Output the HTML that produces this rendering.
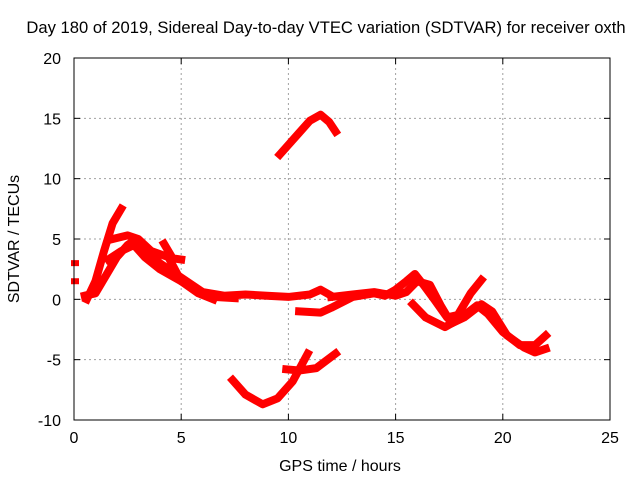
<!DOCTYPE html>
<html><head><meta charset="utf-8"><style>
body{margin:0;background:#fff}
svg text{font-family:"Liberation Sans",sans-serif;font-size:16px;fill:#000}
</style></head><body>
<svg id="c" width="640" height="480" xmlns="http://www.w3.org/2000/svg">
<rect width="640" height="480" fill="#fff"/>
<text x="326" y="33" text-anchor="middle" style="font-size:16.6px">Day 180 of 2019, Sidereal Day-to-day VTEC variation (SDTVAR) for receiver oxth</text>
<text x="340" y="471" text-anchor="middle">GPS time / hours</text>
<text transform="translate(19,239) rotate(-90)" text-anchor="middle">SDTVAR / TECUs</text>
<g id="grid"></g><g id="ticks"></g><g id="data"></g>
<rect x="74" y="58" width="536" height="362" fill="none" stroke="#000" stroke-width="1"/>
</svg>
<script>
const xTicks=[0,5,10,15,20,25];
const yTicks=[-10,-5,0,5,10,15,20];
const seriesA=[[0.6,0],[1,1.5],[1.4,4],[1.8,6.3],[2.2,7.5]];
const seriesB=[[0.5,0.3],[1,0.5],[1.5,2],[2,3.5],[2.5,4.5],[2.9,5],[3.3,4.2],[4,3],[5,1.8],[6,0.6],[7,0.3],[8,0.4],[9,0.3],[10,0.2],[11,0.4],[11.5,0.8],[12,0.3]];
const seriesC=[[1.6,3.3],[2.2,4],[2.8,4.5],[3.3,3.5],[4,2.5],[4.7,1.8],[5.5,1],[6.5,0.2],[7.5,0.1]];
const seriesD=[[1.8,5],[2.5,5.3],[3,5],[3.6,4],[4.4,3.5],[5,1.5],[5.8,0.5],[6.5,0]];
const seriesE=[[4.2,4.6],[4.6,3.4],[5,3.3]];
const seriesTop=[[9.6,12],[10,12.8],[10.5,13.8],[11,14.8],[11.5,15.3],[11.9,14.7],[12.2,13.9]];
const seriesBot1=[[7.4,-6.7],[8,-7.9],[8.8,-8.7],[9.5,-8.2],[10.2,-6.8],[10.9,-4.5]];
const seriesBot2=[[9.9,-5.8],[10.5,-5.9],[11.3,-5.7],[12.2,-4.5]];
const seriesF=[[10.5,-1],[11.5,-1.1],[12,-0.7],[13,0.2],[14,0.5],[14.5,0.3],[15,0.8],[15.5,1.5],[15.9,2.1],[16.3,1.2],[16.8,0],[17.4,-1.5],[17.9,-1.3],[18.5,0.5],[19,1.6]];
const seriesG=[[12,0.2],[13,0.4],[14,0.6],[15,0.3],[15.5,0.6],[16,1.5],[16.6,1.2],[17.1,-0.5],[17.6,-2],[18.2,-1.5],[19,-0.4],[19.5,-1],[20.2,-3],[21,-4],[21.5,-4.4],[22,-4.1]];
const seriesH=[[15.8,-0.4],[16.4,-1.5],[17.3,-2.3],[18,-1.6],[18.8,-0.5],[19.3,-1.2],[20,-2.7],[20.8,-3.8],[21.5,-3.8],[22,-3]];
const seriesPts=[[0,3],[0,1.5]];
const allSeries=[seriesA,seriesB,seriesC,seriesD,seriesE,seriesTop,seriesBot1,seriesBot2,seriesF,seriesG,seriesH];
const NS="http://www.w3.org/2000/svg";
const X=h=>74+h*536/25, Y=v=>420-(v+10)*362/30;
const grid=document.getElementById('grid'),ticks=document.getElementById('ticks'),data=document.getElementById('data');
function mk(tag,at,parent){const e=document.createElementNS(NS,tag);for(const k in at)e.setAttribute(k,at[k]);parent.appendChild(e);return e;}
xTicks.forEach(t=>{const x=X(t);
 if(t>0&&t<25){const l=mk('line',{x1:x,x2:x,y1:58,y2:420,stroke:'#a0a0a0','stroke-dasharray':'2,3'},grid);
 
 }
 mk('line',{x1:x,x2:x,y1:420,y2:414,stroke:'#000'},ticks);mk('line',{x1:x,x2:x,y1:58,y2:64,stroke:'#000'},ticks);
 const tx=mk('text',{x:x,y:443,'text-anchor':'middle'},ticks);tx.textContent=t;
 
 });
yTicks.forEach(t=>{const y=Y(t);
 if(t>-10&&t<20){const l=mk('line',{x1:74,x2:610,y1:y,y2:y,stroke:'#a0a0a0','stroke-dasharray':'2,3'},grid);
 
 }
 mk('line',{x1:74,x2:80,y1:y,y2:y,stroke:'#000'},ticks);mk('line',{x1:610,x2:604,y1:y,y2:y,stroke:'#000'},ticks);
 const tx=mk('text',{x:61,y:y+6,'text-anchor':'end'},ticks);tx.textContent=t;
 
 });
allSeries.forEach(s=>{const p=mk('polyline',{points:s.map(d=>X(d[0])+','+Y(d[1])).join(' '),fill:'none',stroke:'#f00','stroke-width':8,'stroke-linejoin':'round','stroke-linecap':'square'},data);
 
 });
seriesPts.forEach(d=>{const r=mk('rect',{x:X(d[0])-3,y:Y(d[1])-3,width:8,height:6,fill:'#f00'},data);
 
 });
</script>
</body></html>
